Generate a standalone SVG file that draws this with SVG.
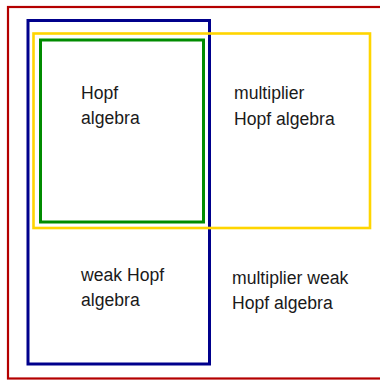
<svg xmlns="http://www.w3.org/2000/svg" width="380" height="381" viewBox="0 0 380 381">
<style>
rect{fill:none}
.t{font-family:"Liberation Sans",Arial,sans-serif;font-size:17.6px;fill:#1a1a1a}
</style>
<rect width="380" height="381" fill="#ffffff" style="fill:#fff"/>
<g id="red"><rect x="8" y="7" width="380" height="371.5" stroke="#b40000" stroke-width="2.2"/></g>
<g id="blue"><rect x="28" y="20.5" width="181.5" height="343.5" stroke="#00008c" stroke-width="3"/></g>
<g id="yellow"><rect x="33.5" y="33.5" width="336.5" height="194.5" stroke="#ffd500" stroke-width="2.6"/></g>
<g id="green"><rect x="40.5" y="40" width="163" height="182" stroke="#008c00" stroke-width="3"/></g>
<g id="labels">
<text class="t" x="81" y="99">Hopf</text>
<text class="t" x="81" y="124">algebra</text>
<text class="t" x="234" y="99">multiplier</text>
<text class="t" x="234" y="125">Hopf algebra</text>
<text class="t" x="81" y="281">weak Hopf</text>
<text class="t" x="81" y="306">algebra</text>
<text class="t" x="232" y="284">multiplier weak</text>
<text class="t" x="232" y="309">Hopf algebra</text>
</g>
<g id="connectors"/>
</svg>
